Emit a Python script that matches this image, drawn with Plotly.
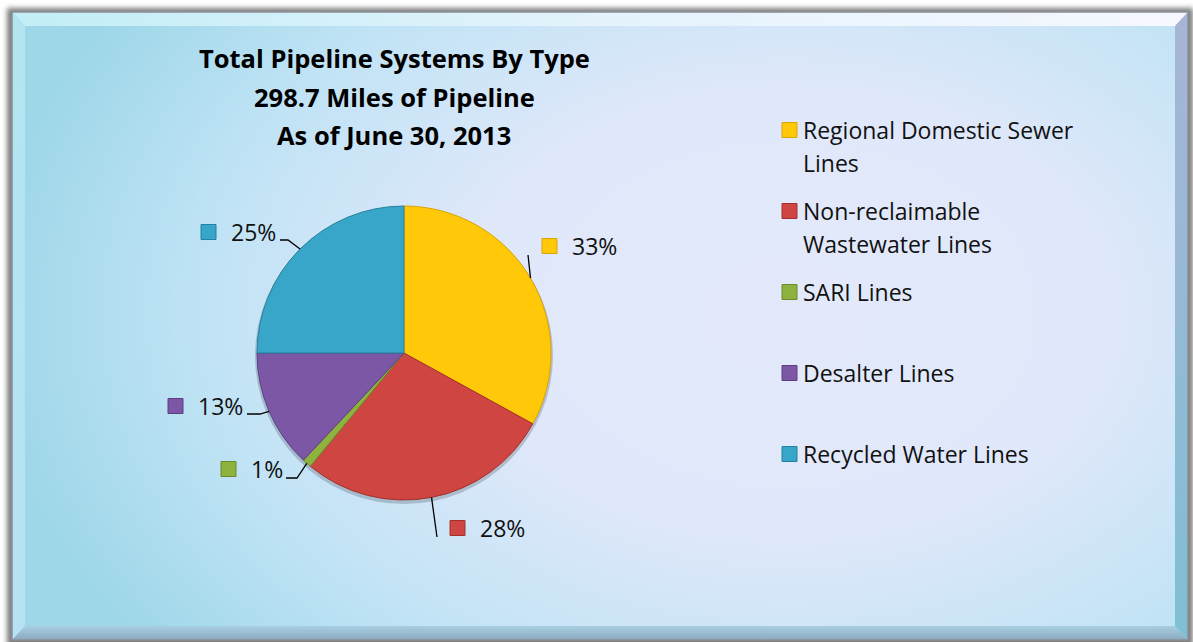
import base64
import math
import plotly.graph_objects as go

# ---- data -------------------------------------------------------------
categories = [
    "Regional Domestic Sewer<br>Lines",
    "Non-reclaimable<br>Wastewater Lines",
    "SARI Lines",
    "Desalter Lines",
    "Recycled Water Lines",
]
shares = [33, 28, 1, 13, 25]          # percent of 298.7 miles
colors = ["#FFC90A", "#CF4541", "#8DB23E", "#7C57A6", "#37A6C9"]
edge_colors = ["#D9A400", "#A3302D", "#6A8A2A", "#5C3F82", "#25809E"]

title_lines = [
    "Total Pipeline Systems By Type",
    "298.7 Miles of Pipeline",
    "As of June 30, 2013",
]

# ---- layout geometry (pixels) ----------------------------------------
W, H = 1193, 642
CX, CY, R = 404, 353, 147

# square marker left x / label centre y, and leader elbow points per slice
label_anchor = [(542, 246), (450, 528), (221, 469), (168, 406), (201, 232)]
leader_elbows = [
    [(528, 255)],
    [(437, 537)],
    [(297, 478), (286, 478)],
    [(260, 414), (247, 414)],
    [(288, 240), (280, 240)],
]
legend_x = 782
legend_rows = [130, 211, 292, 373, 454]
LINE_GAP = 33

FONT = "Open Sans"


def fx(x):
    return x / W


def fy(y):
    return 1 - y / H


# ---- background panel (bevelled frame + soft gradient) ---------------
svg = f"""<svg xmlns='http://www.w3.org/2000/svg' width='{W}' height='{H}' viewBox='0 0 {W} {H}'>
<defs>
 <radialGradient id='bg' cx='0.66' cy='0.48' r='0.68' gradientTransform='translate(0.66 0.48) scale(1 1.3) translate(-0.66 -0.48)'>
  <stop offset='0' stop-color='#E3E9FB'/>
  <stop offset='0.40' stop-color='#DFE8FA'/>
  <stop offset='0.74' stop-color='#BFE3F5'/>
  <stop offset='1' stop-color='#9ED7E8'/>
 </radialGradient>
 <linearGradient id='topb' x1='0' y1='0' x2='1' y2='0'>
  <stop offset='0' stop-color='#C2EEF6'/><stop offset='0.5' stop-color='#E4F3FC'/><stop offset='1' stop-color='#F6F8FE'/>
 </linearGradient>
 <linearGradient id='leftb' x1='0' y1='0' x2='0' y2='1'>
  <stop offset='0' stop-color='#B3E5F0'/><stop offset='1' stop-color='#B6E2F4'/>
 </linearGradient>
 <linearGradient id='botb' x1='0' y1='0' x2='0' y2='1'>
  <stop offset='0' stop-color='#A9CFE2'/><stop offset='1' stop-color='#8AA9BE'/>
 </linearGradient>
 <linearGradient id='rightb' x1='0' y1='0' x2='0' y2='1'>
  <stop offset='0' stop-color='#A8B4D6'/><stop offset='1' stop-color='#7FBFD4'/>
 </linearGradient>
 <filter id='blur'><feGaussianBlur stdDeviation='2.5'/></filter>
</defs>
<rect x='0' y='0' width='{W}' height='{H}' fill='#FFFFFF'/>
<rect x='7' y='8' width='1186' height='640' fill='#7E7E7E' filter='url(#blur)'/>
<rect x='12' y='12' width='1176' height='628' fill='url(#bg)'/>
<polygon points='12,12 1188,12 1175,26 25,26' fill='url(#topb)'/>
<polygon points='12,12 25,26 25,626 12,640' fill='url(#leftb)'/>
<polygon points='12,640 25,626 1175,626 1188,640' fill='url(#botb)'/>
<polygon points='1188,12 1175,26 1175,626 1188,640' fill='url(#rightb)'/>
<rect x='12' y='12' width='1176' height='628' fill='none' stroke='#8A8F96' stroke-width='1.5'/>
</svg>"""
bg_uri = "data:image/svg+xml;base64," + base64.b64encode(svg.encode()).decode()

fig = go.Figure()

fig.add_trace(go.Pie(
    labels=[c.replace("<br>", " ") for c in categories],
    values=shares,
    sort=False,
    direction="clockwise",
    rotation=0,
    textinfo="none",
    hoverinfo="label+percent",
    marker=dict(colors=colors, line=dict(color=edge_colors, width=1)),
    domain=dict(x=[fx(CX - R), fx(CX + R)], y=[fy(CY + R), fy(CY - R)]),
    showlegend=False,
))

shapes = []
annotations = []

# soft shadow behind the pie
shapes.append(dict(
    type="circle", xref="paper", yref="paper", layer="below",
    x0=fx(CX - R - 2), x1=fx(CX + R + 2), y0=fy(CY + R + 4), y1=fy(CY - R + 1),
    fillcolor="rgba(70,80,95,0.28)", line=dict(width=0),
))

# percent labels with leader lines, placed from slice mid-angles
total = sum(shares)
cum = 0
for i, v in enumerate(shares):
    mid = (cum + v / 2) / total * 2 * math.pi
    cum += v
    ex, ey = CX + R * math.sin(mid), CY - R * math.cos(mid)
    pts = [(ex, ey)] + leader_elbows[i]
    path = "M " + " L ".join(f"{fx(x):.5f},{fy(y):.5f}" for x, y in pts)
    shapes.append(dict(type="path", xref="paper", yref="paper", path=path,
                       line=dict(color="#000000", width=1.3)))
    sx, sy = label_anchor[i]
    shapes.append(dict(type="rect", xref="paper", yref="paper",
                       x0=fx(sx), x1=fx(sx + 15), y0=fy(sy + 7.5), y1=fy(sy - 7.5),
                       fillcolor=colors[i], line=dict(color=edge_colors[i], width=1)))
    pct = round(v / total * 100)
    annotations.append(dict(
        x=fx(sx + 28), y=fy(sy), xref="paper", yref="paper",
        xanchor="left", yanchor="middle", showarrow=False,
        text=f"{pct}%", font=dict(family=FONT, size=23, color="#111111"),
    ))

# legend
for i, name in enumerate(categories):
    y0 = legend_rows[i]
    shapes.append(dict(type="rect", xref="paper", yref="paper",
                       x0=fx(legend_x), x1=fx(legend_x + 15),
                       y0=fy(y0 + 7.5), y1=fy(y0 - 7.5),
                       fillcolor=colors[i], line=dict(color=edge_colors[i], width=1)))
    for j, part in enumerate(name.split("<br>")):
        annotations.append(dict(
            x=fx(legend_x + 19), y=fy(y0 + j * LINE_GAP), xref="paper", yref="paper",
            xanchor="left", yanchor="middle", showarrow=False,
            text=part, font=dict(family=FONT, size=23, color="#111111"),
        ))

# title
for j, line in enumerate(title_lines):
    annotations.append(dict(
        x=fx(394), y=fy(58 + j * 38.5), xref="paper", yref="paper",
        xanchor="center", yanchor="middle", showarrow=False,
        text=f"<b>{line}</b>", font=dict(family=FONT, size=25.5, color="#000000"),
    ))

fig.update_layout(
    width=W, height=H,
    margin=dict(l=0, r=0, t=0, b=0),
    paper_bgcolor="#FFFFFF",
    plot_bgcolor="rgba(0,0,0,0)",
    shapes=shapes,
    annotations=annotations,
    images=[dict(source=bg_uri, xref="paper", yref="paper", x=0, y=1,
                 sizex=1, sizey=1, xanchor="left", yanchor="top",
                 sizing="stretch", layer="below")],
)

fig.write_html("out.html")
